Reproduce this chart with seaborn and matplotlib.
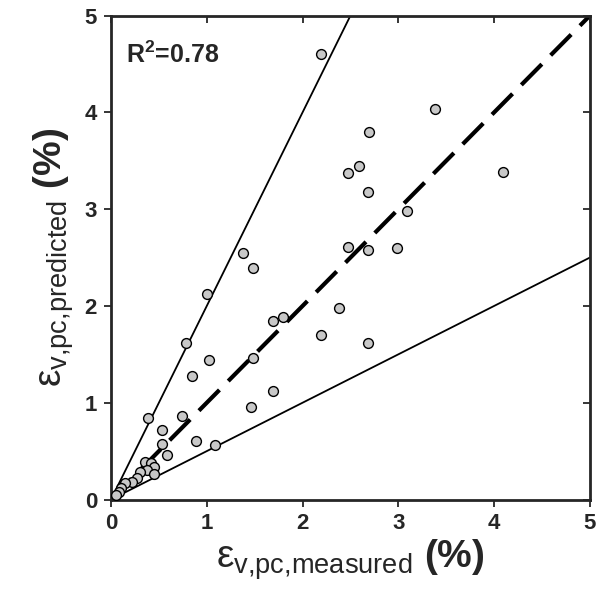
import numpy as np
import pandas as pd
import matplotlib
matplotlib.use("Agg")
import matplotlib.pyplot as plt
import seaborn as sns

# measured vs predicted strain (%)
measured = [2.19, 3.38, 2.69, 2.59, 2.48, 2.68, 4.09, 3.09, 1.38, 1.48,
            2.48, 2.68, 2.99, 1.00, 2.38, 2.19, 2.68, 1.69, 1.80, 0.78,
            1.02, 0.85, 1.48, 1.69, 1.46, 1.09, 0.89, 0.39, 0.74, 0.53,
            0.53, 0.58,
            0.35, 0.42, 0.45, 0.38, 0.30, 0.45, 0.27, 0.22, 0.15, 0.10,
            0.08, 0.05]
predicted = [4.60, 4.04, 3.80, 3.45, 3.37, 3.18, 3.38, 2.98, 2.55, 2.39,
             2.61, 2.58, 2.60, 2.12, 1.98, 1.70, 1.62, 1.85, 1.89, 1.62,
             1.44, 1.28, 1.46, 1.12, 0.96, 0.56, 0.60, 0.84, 0.86, 0.72,
             0.57, 0.46,
             0.39, 0.38, 0.34, 0.30, 0.28, 0.26, 0.22, 0.18, 0.17, 0.12,
             0.08, 0.05]

ref_x = [0, 5]
line_1to1 = [0, 5]
line_2to1 = [0, 10]
line_1to2 = [0, 2.5]
r2_text = "0.78"
ticks = [0, 1, 2, 3, 4, 5]

df = pd.DataFrame({"measured": measured, "predicted": predicted})

sns.set_style("ticks")
plt.rcParams['font.family'] = ['Liberation Sans', 'DejaVu Sans']
plt.rcParams['mathtext.fontset'] = 'custom'
plt.rcParams['mathtext.rm'] = 'Liberation Sans'
plt.rcParams['mathtext.bf'] = 'Liberation Sans:bold'
plt.rcParams['mathtext.it'] = 'Liberation Sans'

fig = plt.figure(figsize=(6, 6.04), dpi=100)
ax = fig.add_axes([0.185, 0.173, 0.798, 0.801])

ax.plot(ref_x, line_2to1, color="black", lw=1.3, zorder=2)
ax.plot(ref_x, line_1to2, color="black", lw=1.3, zorder=2)
ax.plot(ref_x, line_1to1, color="black", lw=3, dashes=(7, 3), zorder=2)

sns.scatterplot(data=df, x="measured", y="predicted", ax=ax,
                color="#c8c8c8", edgecolor="black", linewidth=1.0,
                s=50, zorder=3)

ax.set_xlim(0, 5)
ax.set_ylim(0, 5)
ax.set_xticks(ticks)
ax.set_yticks(ticks)
ax.set_xticklabels([str(t) for t in ticks], fontsize=16, fontweight="bold")
ax.set_yticklabels([str(t) for t in ticks], fontsize=16, fontweight="bold")
ax.tick_params(direction="out", length=5, width=1.3, pad=5)

for sp in ax.spines.values():
    sp.set_visible(True)
    sp.set_linewidth(2)

top = ax.secondary_xaxis("top")
top.set_xticks(ticks)
top.tick_params(direction="in", length=5, width=1.3, labeltop=False)
right = ax.secondary_yaxis("right")
right.set_yticks(ticks)
right.tick_params(direction="in", length=5, width=1.3, labelright=False)

ax.set_xlabel(r"$\mathrm{ε}_{\mathrm{v{,}pc{,}measured}}\ \mathbf{(\%)}$",
              fontsize=28, labelpad=2)
ax.set_ylabel(r"$\mathrm{ε}_{\mathrm{v{,}pc{,}predicted}}\ \mathbf{(\%)}$",
              fontsize=28, labelpad=6)

ax.text(0.16, 4.6, r"$\mathbf{R^2}$" + "=" + r2_text, fontsize=18,
        fontweight="bold", va="center", ha="left")

fig.savefig("out.png", dpi=100)
